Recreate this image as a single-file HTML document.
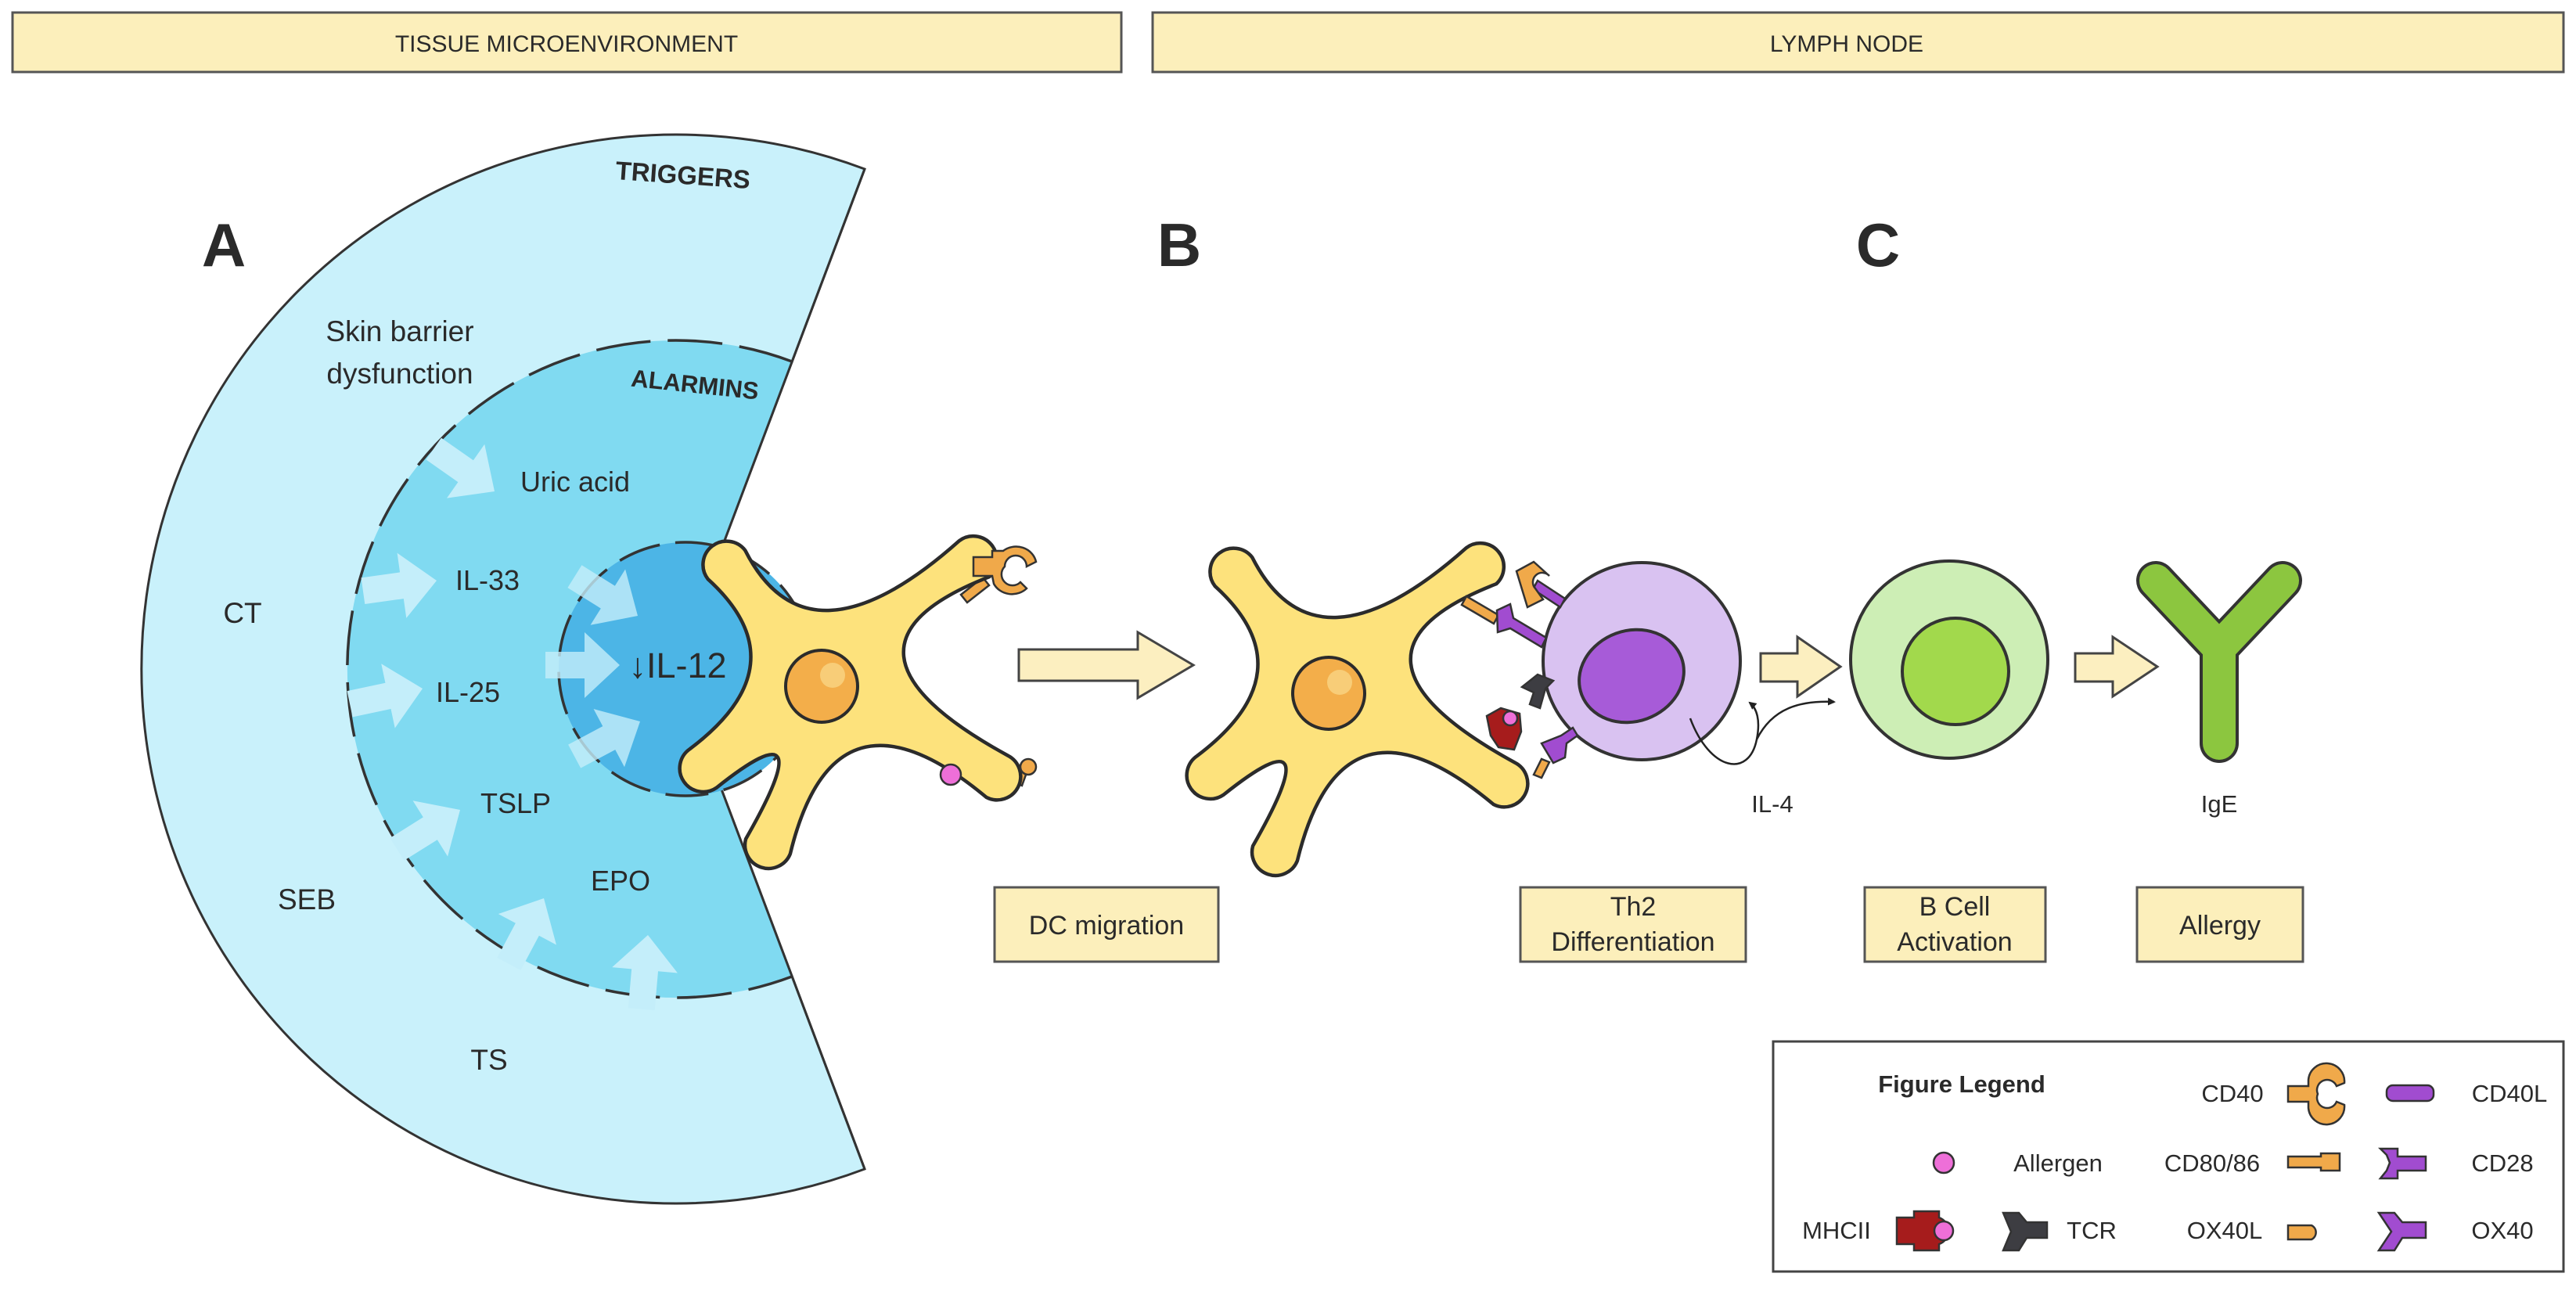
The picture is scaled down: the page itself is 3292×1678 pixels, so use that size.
<!DOCTYPE html>
<html><head><meta charset="utf-8"><style>
html,body{margin:0;padding:0;background:#fff}
svg{display:block}
text{font-family:"Liberation Sans",sans-serif;fill:#2a2a2a}
</style></head><body>
<svg width="3292" height="1678" viewBox="0 0 3292 1678" xmlns="http://www.w3.org/2000/svg">
<defs>
<g id="dc">
<path d="M -145.2,-136.8 A30,30 0 0 1 -97.8,-173.8 Q -17,-14.2 175.8,-185.8 A30,30 0 0 1 214.2,-139.8 Q -16.1,-50.4 238,88.6 A30,30 0 0 1 210.6,142 Q 16.7,-20 -40.1,214.1 A30,30 0 0 1 -96.9,195.1 Q 3.6,19.6 -134.2,129.6 A30,30 0 0 1 -168.4,80.2 Q -25.2,-27.7 -145.2,-136.8 Z" fill="#fde27c" stroke="#2b2b2b" stroke-width="4.5" stroke-linejoin="round"/>
<circle cx="0" cy="0" r="46" fill="#f3ae4a" stroke="#2b2b2b" stroke-width="4"/>
<circle cx="14" cy="-14" r="16" fill="#f8cd78"/>
</g>
<polygon id="ar" points="-95,-17 -45,-17 -45,-42 0,0 -45,42 -45,17 -95,17" fill="#c4eefa"/>
<marker id="mh" markerWidth="10" markerHeight="10" refX="8" refY="5" orient="auto" markerUnits="userSpaceOnUse"><path d="M0,0 L10,5 L0,10 Z" fill="#222"/></marker>
</defs>

<!-- headers -->
<rect x="16" y="16" width="1417" height="76" fill="#fcefbb" stroke="#555" stroke-width="3"/>
<text x="724" y="66" font-size="30" text-anchor="middle">TISSUE MICROENVIRONMENT</text>
<rect x="1473" y="16" width="1803" height="76" fill="#fcefbb" stroke="#555" stroke-width="3"/>
<text x="2360" y="66" font-size="30" text-anchor="middle">LYMPH NODE</text>

<!-- sectors -->
<path d="M864,855 L1105,216 A683,683 0 1 0 1105,1494 Z" fill="#c9f1fb" stroke="#333" stroke-width="3"/>
<path d="M864,855 L1012,462 A420,420 0 1 0 1012,1248 Z" fill="#80daf1"/>
<path d="M1012,462 A420,420 0 1 0 1012,1248" fill="none" stroke="#333" stroke-width="3.5" stroke-dasharray="70 22"/>
<path d="M864,855 L1105,216 M864,855 L1105,1494" stroke="#333" stroke-width="3"/>
<circle cx="876" cy="855" r="162" fill="#4cb5e6"/>
<circle cx="876" cy="855" r="162" fill="none" stroke="#333" stroke-width="3.5" stroke-dasharray="55 20"/>

<!-- arrows middle ring -->
<use href="#ar" transform="translate(632,628) rotate(35)"/>
<use href="#ar" transform="translate(558,742) rotate(-8)"/>
<use href="#ar" transform="translate(540,880) rotate(-12)"/>
<use href="#ar" transform="translate(588,1035) rotate(-32)"/>
<use href="#ar" transform="translate(695,1148) rotate(-62)"/>
<use href="#ar" transform="translate(828,1195) rotate(-85)"/>
<use href="#ar" transform="translate(815,787) rotate(32)" opacity="0.8"/>
<use href="#ar" transform="translate(792,850) rotate(0)" opacity="0.8"/>
<use href="#ar" transform="translate(818,922) rotate(-28)" opacity="0.8"/>

<!-- tissue texts -->
<text x="872" y="235" font-size="33" font-weight="bold" text-anchor="middle" transform="rotate(4 872 235)">TRIGGERS</text>
<text x="887" y="502" font-size="31" font-weight="bold" text-anchor="middle" transform="rotate(6 887 502)">ALARMINS</text>
<text x="286" y="340" font-size="78" font-weight="bold" text-anchor="middle">A</text>
<text x="1507" y="340" font-size="78" font-weight="bold" text-anchor="middle">B</text>
<text x="2400" y="340" font-size="78" font-weight="bold" text-anchor="middle">C</text>
<text x="511" y="436" font-size="37" text-anchor="middle">Skin barrier</text>
<text x="511" y="490" font-size="37" text-anchor="middle">dysfunction</text>
<text x="735" y="628" font-size="36" text-anchor="middle">Uric acid</text>
<text x="623" y="754" font-size="36" text-anchor="middle">IL-33</text>
<text x="310" y="796" font-size="37" text-anchor="middle">CT</text>
<text x="598" y="897" font-size="36" text-anchor="middle">IL-25</text>
<text x="866" y="866" font-size="45" text-anchor="middle">↓IL-12</text>
<text x="659" y="1039" font-size="36" text-anchor="middle">TSLP</text>
<text x="793" y="1138" font-size="36" text-anchor="middle">EPO</text>
<text x="392" y="1162" font-size="37" text-anchor="middle">SEB</text>
<text x="625" y="1367" font-size="37" text-anchor="middle">TS</text>

<!-- DC1 -->
<g stroke="#333" stroke-width="2.5">
<path d="M1228,760 L1256,738 L1264,748 L1236,770 Z" fill="#f0a94a"/>
<path d="M1296,1000 L1304,978 L1314,982 L1306,1004 Z" fill="#f0a94a"/>
</g>
<use href="#dc" transform="translate(1050,877)"/>
<g stroke="#333" stroke-width="2.5">
<path d="M1244,712 L1268,712 L1268,704 L1282,704 A26,24 0 0 1 1324,718 L1312,724 A12,12 0 0 0 1284,724 A12,12 0 0 0 1304,744 L1312,752 A26,24 0 0 1 1270,746 L1268,736 L1244,736 Z" fill="#f0a94a"/>
<circle cx="1314" cy="980" r="10" fill="#f0a94a"/>
<circle cx="1215" cy="990" r="13" fill="#ee6fd8"/>
</g>

<!-- DC migration arrow -->
<path d="M1302,830 L1454,830 L1454,808 L1525,850 L1454,892 L1454,870 L1302,870 Z" fill="#fcefc0" stroke="#444" stroke-width="3"/>

<!-- DC2 -->
<use href="#dc" transform="translate(1698,886)"/>
<!-- Th2 cell -->
<circle cx="2098" cy="845" r="126" fill="#d9c2f1" stroke="#333" stroke-width="4"/>
<ellipse cx="2085" cy="864" rx="68" ry="58" transform="rotate(-20 2085 864)" fill="#a75bd8" stroke="#333" stroke-width="4"/>
<!-- synapse receptors -->
<g stroke="#333" stroke-width="2.5">
<path d="M1965,742 L2000,765 L1994,776 L1959,753 Z" fill="#a14cd0"/>
<path d="M1938,730 L1960,718 L1980,736 A10,10 0 1 0 1962,752 L1972,766 L1952,776 Z" fill="#f0a94a"/>
<path d="M1874,762 L1915,786 L1909,797 L1868,773 Z" fill="#f0a94a"/>
<path d="M1913,780 L1930,772 L1934,790 L1976,815 L1970,827 L1930,803 L1914,808 Z" fill="#a14cd0"/>
<path d="M1945,878 L1965,862 L1985,870 L1975,880 L1968,905 L1955,900 L1960,885 Z" fill="#3d3d42"/>
<path d="M1900,915 L1918,905 L1942,912 L1944,935 L1935,958 L1915,955 L1905,940 Z" fill="#a61c1c"/>
<circle cx="1930" cy="918" r="9" fill="#ee6fd8"/>
<path d="M1970,950 L1995,940 L2010,930 L2016,940 L2002,950 L2000,968 L1985,975 Z" fill="#a14cd0"/>
<path d="M1960,990 L1970,970 L1980,974 L1970,994 Z" fill="#f0a94a"/>
</g>

<!-- arrow 1 -->
<path d="M2250,835 L2297,835 L2297,814 L2352,852 L2297,890 L2297,871 L2250,871 Z" fill="#fcefc0" stroke="#444" stroke-width="3"/>
<!-- B cell -->
<circle cx="2491" cy="843" r="126" fill="#cdeeb5" stroke="#333" stroke-width="4"/>
<circle cx="2499" cy="858" r="68" fill="#a2d94c" stroke="#333" stroke-width="4"/>
<!-- arrow 2 -->
<path d="M2652,835 L2700,835 L2700,814 L2757,852 L2700,890 L2700,871 L2652,871 Z" fill="#fcefc0" stroke="#444" stroke-width="3"/>
<!-- IgE -->
<path d="M2755,742 L2836,828 L2917,742 M2836,828 L2836,950" fill="none" stroke="#333" stroke-width="50" stroke-linecap="round" stroke-linejoin="round"/>
<path d="M2755,742 L2836,828 L2917,742 M2836,828 L2836,950" fill="none" stroke="#8cc63f" stroke-width="42" stroke-linecap="round" stroke-linejoin="round"/>

<!-- IL-4 curve -->
<path d="M2160,918 C2185,985 2235,995 2245,945 C2250,920 2245,905 2236,898" fill="none" stroke="#222" stroke-width="2.5" marker-end="url(#mh)"/>
<path d="M2245,945 C2265,905 2300,895 2344,897" fill="none" stroke="#222" stroke-width="2.5" marker-end="url(#mh)"/>
<text x="2265" y="1038" font-size="31" text-anchor="middle">IL-4</text>
<text x="2836" y="1038" font-size="31" text-anchor="middle">IgE</text>

<!-- boxes -->
<g fill="#fcefbb" stroke="#555" stroke-width="3">
<rect x="1271" y="1134" width="286" height="95"/>
<rect x="1943" y="1134" width="288" height="95"/>
<rect x="2383" y="1134" width="231" height="95"/>
<rect x="2731" y="1134" width="212" height="95"/>
</g>
<text x="1414" y="1194" font-size="34" text-anchor="middle">DC migration</text>
<text x="2087" y="1170" font-size="34" text-anchor="middle">Th2</text>
<text x="2087" y="1215" font-size="34" text-anchor="middle">Differentiation</text>
<text x="2498" y="1170" font-size="34" text-anchor="middle">B Cell</text>
<text x="2498" y="1215" font-size="34" text-anchor="middle">Activation</text>
<text x="2837" y="1194" font-size="34" text-anchor="middle">Allergy</text>

<!-- legend -->
<rect x="2266" y="1331" width="1010" height="294" fill="#fff" stroke="#444" stroke-width="3"/>
<text x="2507" y="1396" font-size="31" font-weight="bold" text-anchor="middle">Figure Legend</text>
<text x="2853" y="1408" font-size="31" text-anchor="middle">CD40</text>
<text x="3207" y="1408" font-size="31" text-anchor="middle">CD40L</text>
<text x="2630" y="1497" font-size="31" text-anchor="middle">Allergen</text>
<text x="2827" y="1497" font-size="31" text-anchor="middle">CD80/86</text>
<text x="3198" y="1497" font-size="31" text-anchor="middle">CD28</text>
<text x="2347" y="1583" font-size="31" text-anchor="middle">MHCII</text>
<text x="2673" y="1583" font-size="31" text-anchor="middle">TCR</text>
<text x="2843" y="1583" font-size="31" text-anchor="middle">OX40L</text>
<text x="3198" y="1583" font-size="31" text-anchor="middle">OX40</text>
<g stroke="#333" stroke-width="2.5">
<path d="M2924,1388 L2950,1388 L2950,1380 A22,22 0 0 1 2996,1384 L2986,1388 A12,12 0 0 0 2962,1398 A12,12 0 0 0 2986,1408 L2996,1412 A22,22 0 0 1 2950,1416 L2950,1408 L2924,1408 Z" fill="#f0a94a"/>
<rect x="3050" y="1387" width="60" height="20" rx="8" fill="#a14cd0"/>
<circle cx="2484" cy="1486" r="13" fill="#ee6fd8"/>
<path d="M2924,1478 L2966,1478 L2966,1474 L2990,1474 L2990,1496 L2966,1496 L2966,1492 L2924,1492 Z" fill="#f0a94a"/>
<path d="M3042,1468 L3064,1468 L3064,1478 L3100,1478 L3100,1496 L3064,1496 L3064,1506 L3042,1506 L3050,1496 L3054,1486 L3050,1476 Z" fill="#a14cd0"/>
<path d="M2424,1556 L2446,1556 L2446,1548 L2478,1548 L2478,1556 A18,18 0 0 1 2478,1590 L2478,1598 L2446,1598 L2446,1590 L2424,1590 Z" fill="#a61c1c"/>
<circle cx="2484" cy="1573" r="12" fill="#ee6fd8"/>
<path d="M2560,1550 L2580,1550 L2590,1562 L2616,1562 L2616,1582 L2590,1582 L2580,1598 L2560,1598 L2570,1574 Z" fill="#3d3d42"/>
<path d="M2924,1566 L2954,1566 A10,10 0 0 1 2954,1584 L2924,1584 Z" fill="#f0a94a"/>
<path d="M3040,1550 L3060,1550 L3070,1562 L3100,1562 L3100,1582 L3070,1582 L3060,1598 L3040,1598 L3056,1574 Z" fill="#a14cd0"/>
</g>
</svg>
</body></html>
